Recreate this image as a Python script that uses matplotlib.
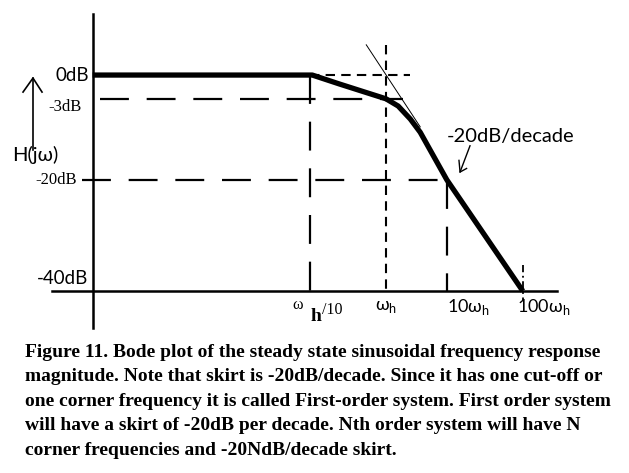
import matplotlib.pyplot as plt

# frequency marks (hand-drawn positions in decades relative to w_h)
freq_pos = [-1.0, 0.0, 0.8, 1.8]
freq_labels = ["ω h/10", "ω_h", "10ω_h", "100ω_h"]

# magnitude levels as drawn (dB)
db_levels = [0.0, -4.4, -19.4, -40.0]
db_labels = ["0dB", "-3dB", "-20dB", "-40dB"]

# magnitude response curve (thick line)
curve_x = [-3.86, -0.97, -0.61, -0.28, 0.0, 0.16, 0.32, 0.45, 0.80, 1.80]
curve_y = [0.0, 0.0, -1.67, -3.15, -4.4, -5.74, -8.15, -10.6, -19.4, -40.0]

# straight -20dB/decade asymptote (thin line)
asym_x = [-0.26, 0.45]
asym_y = [5.6, -9.6]

caption = [
    "Figure 11. Bode plot of the steady state sinusoidal frequency response",
    "magnitude. Note that skirt is -20dB/decade. Since it has one cut-off or",
    "one corner frequency it is called First-order system. First order system",
    "will have a skirt of -20dB per decade. Nth order system will have N",
    "corner frequencies and -20NdB/decade skirt.",
]

SANS = ["Lato", "DejaVu Sans"]
SERIF = ["Liberation Serif", "DejaVu Serif"]


def main() -> None:
    fig = plt.figure(figsize=(6.29, 4.73), dpi=100)
    ax = fig.add_axes([0, 0, 1, 1])
    ax.set_xlim(-5.079, 3.197)
    ax.set_ylim(-73.7, 13.9)
    ax.axis("off")

    w10, wh, w10h, w100h = freq_pos
    y0, y3, y20, y40 = db_levels

    # axes
    ax.plot([-3.855, -3.855], [11.3, -46.9], color="black", lw=1.8)
    ax.plot([-4.39, 2.25], [y40, y40], color="black", lw=1.8)

    long_dash = dict(color="black", lw=1.6, dashes=(13, 8))
    short_dash = dict(color="black", lw=1.5, dashes=(4.5, 3))

    ax.plot([-3.76, 0.22], [y3, y3], **long_dash)
    ax.plot([-4.0, w10h], [y20, y20], **long_dash)
    ax.plot([w10, w10], [y0, y40], **long_dash)
    ax.plot([w10h, w10h], [y20, y40], **long_dash)
    ax.plot([wh, wh], [5.6, y40], **short_dash)
    ax.plot([w10, 0.32], [y0, y0], **short_dash)
    ax.plot([w100h, w100h], [-35.2, -41.7], color="black", lw=1.3,
            dashes=(4, 2, 1, 2))

    # response curve and asymptote
    ax.plot(curve_x, curve_y, color="black", lw=3.8, solid_capstyle="butt",
            solid_joinstyle="round")
    ax.plot(asym_x, asym_y, color="black", lw=0.7)

    # y labels
    ax.text(-3.9, y0, db_labels[0], ha="right", va="center",
            fontsize=13.5, family=SANS)
    ax.text(-4.0, y3 - 1.5, db_labels[1], ha="right", va="center",
            fontsize=12, family=SERIF)
    ax.text(-4.07, y20, db_labels[2], ha="right", va="center",
            fontsize=12, family=SERIF)
    ax.text(-3.92, y40 + 2.4, db_labels[3], ha="right", va="center",
            fontsize=13.5, family=SANS)

    ax.text(-4.92, -14.8, "H(jω)", ha="left", va="center",
            fontsize=14.5, family=SANS)
    ax.plot([-4.645, -4.645], [-13.9, -0.56], color="black", lw=1.2)
    ax.plot([-4.776, -4.645, -4.526], [-3.15, -0.56, -3.15],
            color="black", lw=1.2)

    # x labels
    ax.text(w10 - 0.16, -42.6, "ω", ha="center", va="center",
            fontsize=11.5, family=SERIF)
    ax.text(w10 + 0.08, -44.8, "h", ha="center", va="center",
            fontsize=14, family=SERIF, fontweight="bold")
    ax.text(w10 + 0.16, -43.6, "/10", ha="left", va="center",
            fontsize=11.5, family=SERIF)
    for pos, lab in zip(freq_pos[1:], freq_labels[1:]):
        prefix, sub = lab.split("_")
        ax.text(pos + (0.28 if pos > 0 else 0.0), -43.0,
                prefix + "$_{\\mathregular{" + sub + "}}$",
                ha="center", va="center", fontsize=13, family=SANS)

    # slope annotation
    ax.text(0.80, -11.3, "-20dB/decade", ha="left", va="center",
            fontsize=14.5, family=SANS)
    ax.plot([1.105, 0.974], [-13.1, -17.96], color="black", lw=1.0)
    ax.plot([0.96, 0.974, 1.06], [-15.8, -17.96, -17.3], color="black",
            lw=1.0)

    # caption
    for i, line in enumerate(caption):
        fig.text(25 / 629, 1 - (352 + 24.6 * i) / 473, line, ha="left",
                 va="center", fontsize=14, family=SERIF,
                 fontweight="bold")

    fig.savefig("out.png", dpi=100, facecolor="white")
    plt.close(fig)


if __name__ == "__main__":
    main()
